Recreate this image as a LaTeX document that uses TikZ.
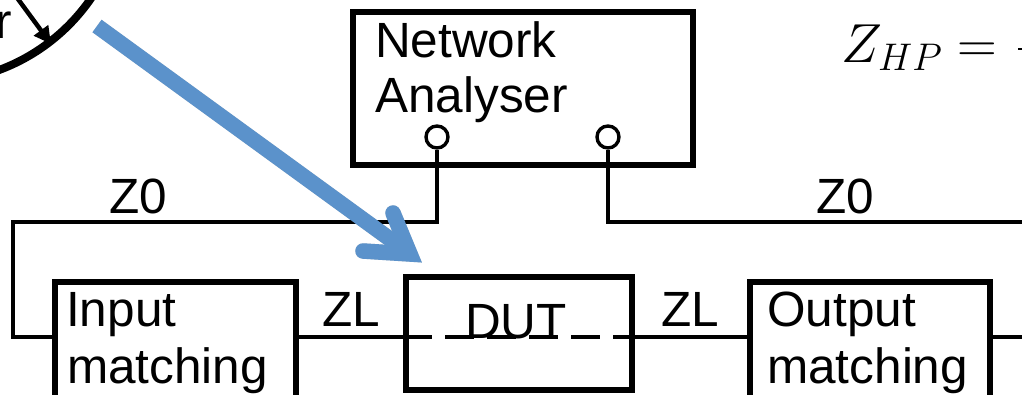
\RequirePackage{fix-cm}
\documentclass[tikz,border=0pt]{standalone}
\usepackage{fontspec}
\setmainfont{Liberation Sans}
\usetikzlibrary{arrows.meta}
\definecolor{arrowblue}{RGB}{91,146,203}
\tikzset{
  box/.style={draw, line width=5.2pt, rectangle, inner sep=0pt},
  port/.style={draw, circle, line width=3.4pt, minimum size=22pt, inner sep=0pt},
  wire/.style={line width=4.6pt},
  lbl/.style={inner sep=0pt, anchor=base west, font=\fontsize{49.5}{55}\selectfont},
}
\begin{document}
\begin{tikzpicture}[x=1pt, y=-1pt]
\useasboundingbox (0,0) rectangle (1022,394);
\clip (0,0) rectangle (1022,394);
% boxes
\node[box, minimum width=340pt, minimum height=153pt] (NA) at (523,88.5) {};
\node[box, minimum width=241pt, minimum height=148pt] (In) at (175.5,356) {};
\node[box, minimum width=226pt, minimum height=113pt] (DUT) at (519,333.5) {};
\node[box, minimum width=240pt, minimum height=148pt] (Out) at (870,356) {};
% ports
\node[port] (p1) at (437,137) {};
\node[port] (p2) at (608,137) {};
% levels
\coordinate (lvl) at (0,337);
\coordinate (c1) at (13,222);
\coordinate (r1) at (1030,222);
\coordinate (r2) at (1030,337);
% wires
\draw[wire, line join=miter] (p1.south) |- (c1) |- (In.west |- lvl);
\draw[wire, line join=miter] (p2.south) |- (r1);
\draw[wire] (In.east |- lvl) -- (DUT.west |- lvl);
\draw[wire, dash pattern=on 29pt off 13pt] (DUT.west |- lvl) -- (DUT.east |- lvl);
\draw[wire] (DUT.east |- lvl) -- (Out.west |- lvl);
\draw[wire] (Out.east |- lvl) -- (r2);
% texts
\node[lbl] (t1) at (375,57) {Network};
\node[lbl] (t2) at (375,112) {Analyser};
\node[lbl] (t3) at (66,326) {Input};
\node[lbl] (t4) at (67,383) {matching};
\node[lbl] (t5) at (767,326) {Output};
\node[lbl] (t6) at (767,383) {matching};
\node[lbl] (t7) at (465,338) {DUT};
\node[lbl] (z1) at (109,213) {Z0};
\node[lbl] (z2) at (816,213) {Z0};
\node[lbl] (z3) at (322,326) {ZL};
\node[lbl] (z4) at (661,326) {ZL};
% equation
\node[inner sep=0pt, anchor=base west, font=\fontsize{55}{60}\selectfont] (eq) at (841,62) {$Z_{HP} =$};
\draw[line width=2pt] (1018,49) -- (1030,49);
% partial circle top-left
\coordinate (cc) at (-68,-111);
\draw[line width=8pt] (cc) circle[radius=193pt];
\coordinate (a0) at (4,-20);
\coordinate (a1) at (51,44);
\draw[line width=4.5pt, -{Triangle[length=17pt, width=17pt]}] (a0) -- (a1);
\node[inner sep=0pt, anchor=base east, font=\fontsize{49.5}{55}\selectfont] (rr) at (12,38) {r};
% blue arrow with shadow
\coordinate (bt) at (97,26);
\coordinate (bs) at (405,250);
\coordinate (bv) at (410,254);
\coordinate (b1) at (393,213);
\coordinate (b2) at (363,251);
\begin{scope}[shift={(3,3)}, black, opacity=0.18]
\draw[line width=15.5pt] (bt) -- (bs);
\draw[line width=15.5pt, line join=miter, line cap=round] (b1) -- (bv) -- (b2);
\end{scope}
\draw[arrowblue, line width=15.5pt] (bt) -- (bs);
\draw[arrowblue, line width=15.5pt, line join=miter, line cap=round] (b1) -- (bv) -- (b2);
\end{tikzpicture}
\end{document}
